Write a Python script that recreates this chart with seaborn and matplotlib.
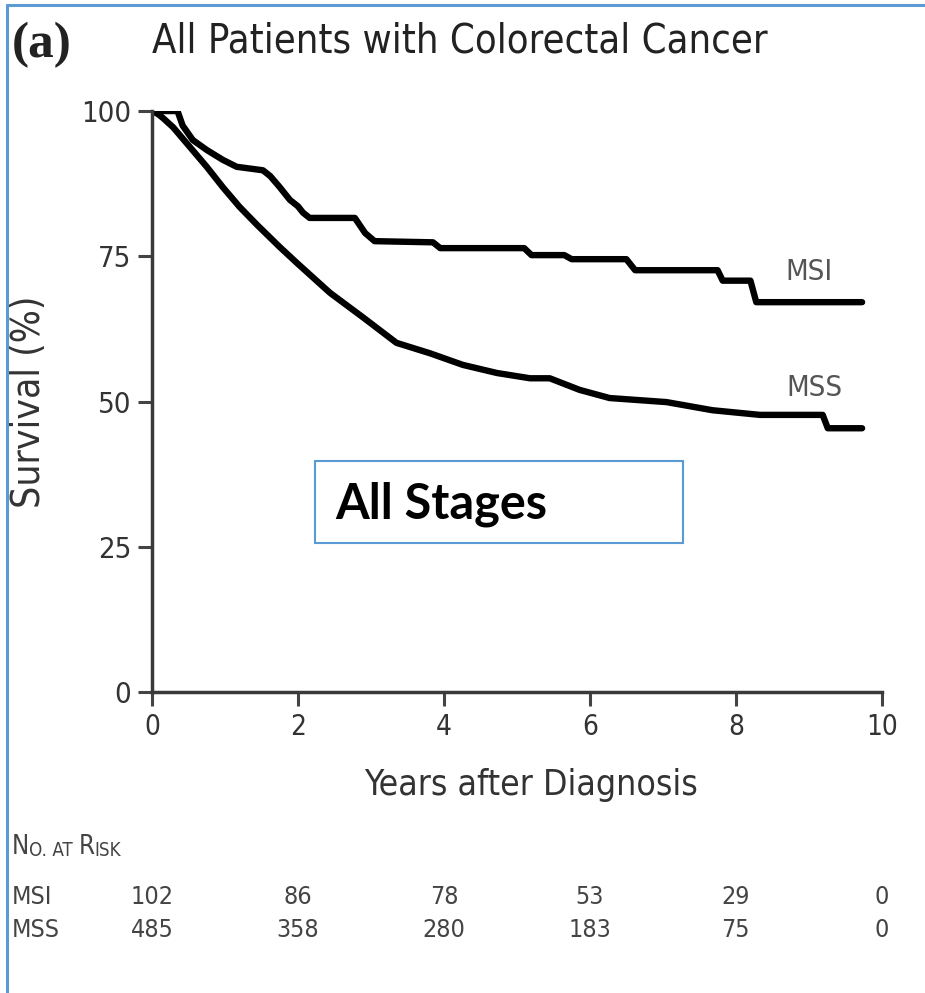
import matplotlib
matplotlib.use("Agg")
import matplotlib.pyplot as plt
import matplotlib.transforms as mtransforms
from matplotlib.lines import Line2D
from matplotlib.patches import Rectangle
import pandas as pd
import seaborn as sns

# Kaplan-Meier curves (years, survival %)
msi_years = [0, 0.35, 0.42, 0.56, 0.75, 0.97, 1.16, 1.52, 1.62, 1.75, 1.89, 2.0,
             2.07, 2.16, 2.78, 2.92, 3.05, 3.85, 3.95, 5.1, 5.2, 5.65, 5.75,
             6.5, 6.62, 7.75, 7.82, 8.2, 8.28, 9.73]
msi_surv = [100, 100, 97.5, 95.0, 93.3, 91.6, 90.4, 89.8, 88.8, 86.9, 84.7, 83.6,
            82.5, 81.6, 81.6, 79.0, 77.6, 77.4, 76.4, 76.4, 75.2, 75.2, 74.5,
            74.5, 72.6, 72.6, 70.8, 70.8, 67.1, 67.1]

mss_years = [0, 0.08, 0.15, 0.29, 0.52, 0.75, 0.97, 1.2, 1.44, 1.75, 1.99, 2.44,
             2.89, 3.35, 3.81, 4.26, 4.73, 5.18, 5.45, 5.86, 6.27, 7.05, 7.68,
             8.33, 9.19, 9.26, 9.73]
mss_surv = [100, 99.5, 98.8, 97.2, 93.8, 90.4, 86.9, 83.5, 80.4, 76.6, 73.8, 68.7,
            64.5, 60.1, 58.3, 56.3, 54.9, 54.0, 54.0, 52.0, 50.6, 49.9, 48.5,
            47.7, 47.7, 45.4, 45.4]

risk_years = [0, 2, 4, 6, 8, 10]
risk_msi = [102, 86, 78, 53, 29, 0]
risk_mss = [485, 358, 280, 183, 75, 0]

x_ticks = [0, 2, 4, 6, 8, 10]
y_ticks = [0, 25, 50, 75, 100]

sns.set_style("ticks")
plt.rcParams["font.family"] = ["DejaVu Sans"]
plt.rcParams["font.stretch"] = "condensed"

df = pd.concat([
    pd.DataFrame({"years": msi_years, "survival": msi_surv, "group": "MSI"}),
    pd.DataFrame({"years": mss_years, "survival": mss_surv, "group": "MSS"}),
], ignore_index=True)

fig = plt.figure(figsize=(9.25, 9.93), dpi=100)
ax = fig.add_axes([0.1643, 0.3031, 0.789, 0.5851])

sns.lineplot(data=df, x="years", y="survival", hue="group",
             palette={"MSI": "black", "MSS": "black"}, estimator=None,
             sort=False, legend=False, linewidth=4.6, ax=ax)

ax.set_xlim(0, 10)
ax.set_ylim(0, 100)
ax.set_xticks(x_ticks)
ax.set_yticks(y_ticks)
ax.set_xticklabels([str(v) for v in x_ticks], fontsize=20, color="#333333")
ax.set_yticklabels([str(v) for v in y_ticks], fontsize=21, color="#333333")
ax.tick_params(axis="both", length=10, width=2.2, color="#444444", pad=5)
for side in ["top", "right"]:
    ax.spines[side].set_visible(False)
for side in ["left", "bottom"]:
    ax.spines[side].set_linewidth(2.5)
    ax.spines[side].set_color("#3a3a3a")
ax.set_xlabel("Years after Diagnosis", fontsize=25.5, color="#333333", labelpad=18)
ax.xaxis.set_label_coords(0.519, -0.13)
ax.set_ylabel("Survival (%)", fontsize=28, color="#333333", labelpad=24)

ax.text(9.0, 72.3, "MSI", fontsize=21, color="#555555", ha="center", va="center")
ax.text(9.08, 52.3, "MSS", fontsize=21, color="#555555", ha="center", va="center")

# "All Stages" box
ax.add_patch(Rectangle((0.2233, 0.2565), 0.5041, 0.1411, transform=ax.transAxes,
                       fill=False, edgecolor="#5B9BD5", linewidth=1.5, clip_on=False))
ax.text(0.2507, 0.2995, "All Stages", transform=ax.transAxes, fontsize=35,
        fontweight="bold", family=["Lato", "DejaVu Sans"], fontstretch="normal",
        color="black", ha="left", va="baseline")

# titles
fig.text(0.013, 0.955, "(a)", fontsize=37, fontweight="bold",
         family=["Liberation Serif", "DejaVu Serif"], fontstretch="normal",
         color="#222222", va="center")
fig.text(0.1643, 0.958, "All Patients with Colorectal Cancer", fontsize=28.6,
         color="#222222", va="center", ha="left")

# number at risk table
blend = mtransforms.blended_transform_factory(ax.transData, fig.transFigure)
t = fig.text(0.013, 0.140, "N", fontsize=18.5, color="#444444", va="baseline")
for piece, size in [("O. AT ", 13.5), ("R", 18.5), ("ISK", 13.5)]:
    t = ax.annotate(piece, xy=(1, 0), xycoords=t, fontsize=size, color="#444444",
                    va="bottom", ha="left")
for label, counts, yf in [("MSI", risk_msi, 0.0967), ("MSS", risk_mss, 0.0635)]:
    fig.text(0.013, yf, label, fontsize=18, color="#444444", va="center")
    for yr, n in zip(risk_years, counts):
        ax.text(yr, yf, str(n), transform=blend, fontsize=18, color="#444444",
                ha="center", va="center")

# blue frame on top and left edges
fig.add_artist(Line2D([0.0076, 1.0], [0.995, 0.995], transform=fig.transFigure,
                      color="#5B9BD5", linewidth=2.2))
fig.add_artist(Line2D([0.0076, 0.0076], [0.0, 0.995], transform=fig.transFigure,
                      color="#5B9BD5", linewidth=2.2))

fig.savefig("out.png", dpi=100)
